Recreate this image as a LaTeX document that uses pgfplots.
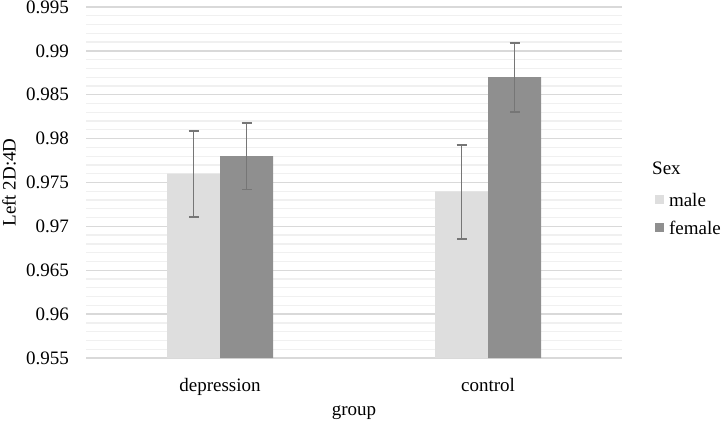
\documentclass[border=0pt]{standalone}
\usepackage{fontspec}
\setmainfont{Liberation Serif}
\usepackage{pgfplots}
\pgfplotsset{compat=1.18}
\definecolor{malec}{HTML}{DEDEDE}
\definecolor{femalec}{HTML}{8F8F8F}
\definecolor{errc}{HTML}{767676}
\definecolor{majgrid}{HTML}{D9D9D9}
\definecolor{mingrid}{HTML}{F0F0F0}
\begin{document}
\fontsize{19bp}{23bp}\selectfont
\begin{tikzpicture}
\useasboundingbox (0,0) rectangle (722bp,423bp);
\begin{axis}[
 at={(86bp,65bp)}, anchor=south west,
 scale only axis, width=536bp, height=351bp,
 clip=false,
 ybar=0pt, bar width=53bp,
 xmin=-0.5, xmax=1.5, ymin=0.955, ymax=0.995,
 xtick={0,1}, xticklabels={depression,control},
 ytick={0.955,0.96,0.965,0.97,0.975,0.98,0.985,0.99,0.995},
 yticklabels={0.955,0.96,0.965,0.97,0.975,0.98,0.985,0.99,0.995},
 minor y tick num=4,
 ymajorgrids, yminorgrids,
 major grid style={majgrid, line width=1.3bp},
 minor grid style={mingrid, line width=1.3bp},
 axis line style={draw=none},
 major tick style={draw=none}, minor tick style={draw=none},
 yticklabel style={anchor=east, inner sep=0pt, xshift=-17bp},
 xticklabel style={anchor=base, inner sep=0pt, yshift=-29bp},
 xlabel={group},
 xlabel style={at={(axis description cs:0.5,0)}, anchor=base, inner sep=0pt, yshift=-57bp},
 ylabel={Left 2D:4D},
 ylabel style={at={(axis description cs:-0.1437,0.5)}, anchor=center, inner sep=0pt},
 legend style={at={(axis description cs:1.0616,0.4687)}, anchor=north west, draw=none, fill=none, inner sep=0pt, outer sep=0pt, row sep=15bp, column sep=5bp, cells={anchor=west}, nodes={inner sep=0pt, text height=13bp, text depth=0pt}},
]
\addplot[fill=malec, draw=none,
  legend image code/.code={\fill[malec] (0bp,-4.5bp) rectangle (9bp,4.5bp);},
  error bars/.cd, y dir=both, y explicit,
  error bar style={errc, line width=1.8bp},
  error mark options={rotate=90, errc, line width=1.8bp, mark size=5bp}]
  coordinates {(0,0.976) += (0,0.0049) -= (0,0.0049)
               (1,0.974) += (0,0.0053) -= (0,0.0054)};
\addlegendentry{male}
\addplot[fill=femalec, draw=none,
  legend image code/.code={\fill[femalec] (0bp,-4.5bp) rectangle (9bp,4.5bp);},
  error bars/.cd, y dir=both, y explicit,
  error bar style={errc, line width=1.8bp},
  error mark options={rotate=90, errc, line width=1.8bp, mark size=5bp}]
  coordinates {(0,0.978) += (0,0.0038) -= (0,0.0038)
               (1,0.987) += (0,0.0039) -= (0,0.0040)};
\addlegendentry{female}
\node[anchor=west, inner sep=0pt] at (axis description cs:1.056,0.5413) {Sex};
\end{axis}
\end{tikzpicture}
\end{document}
